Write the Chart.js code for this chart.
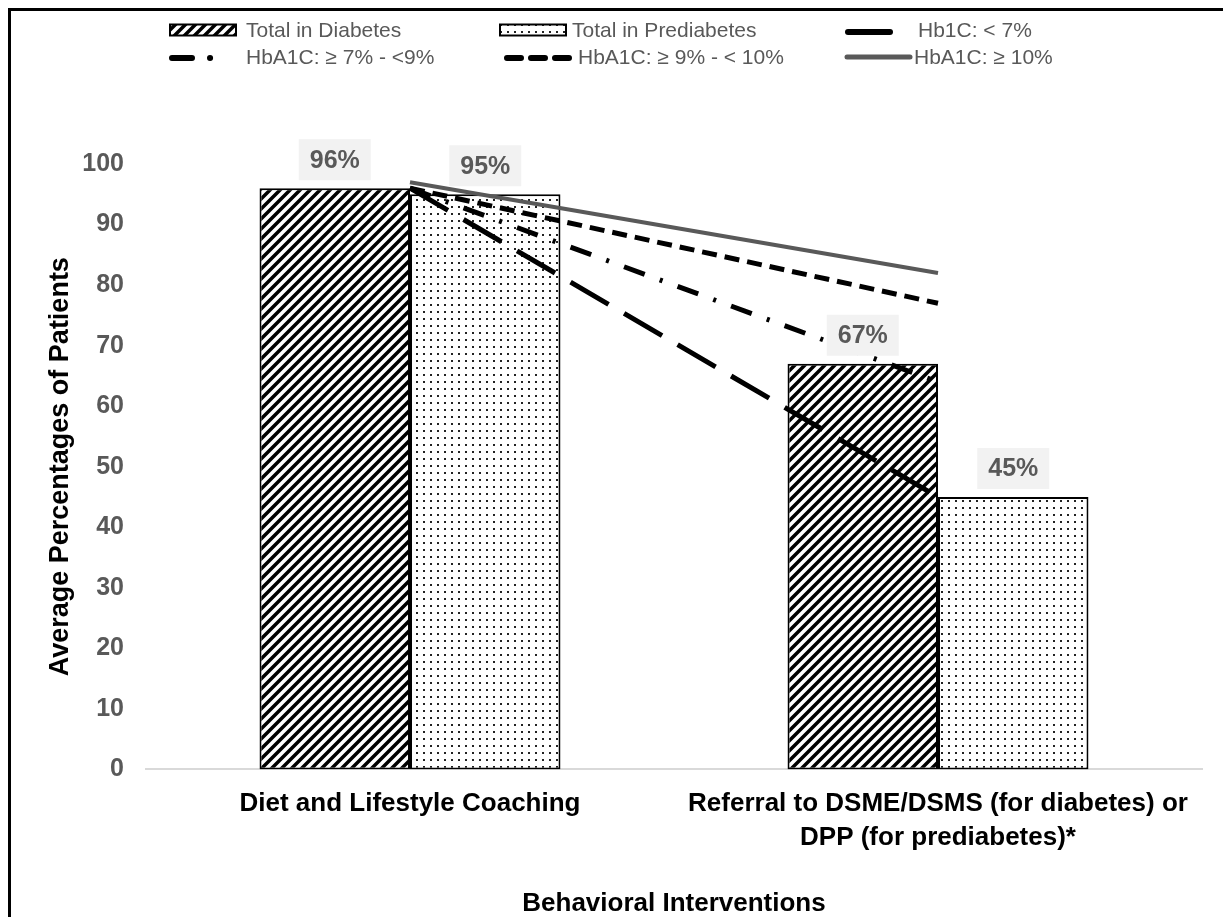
<!DOCTYPE html>
<html>
<head>
<meta charset="utf-8">
<script src="https://cdn.jsdelivr.net/npm/chart.js@4.4.1/dist/chart.umd.min.js"></script>
<style>
  html, body { margin: 0; padding: 0; background: #fff; overflow: hidden; }
  #wrap { position: relative; width: 1223px; height: 917px; }
  #frame { position: absolute; left: 8px; top: 8px; width: 1300px; height: 1000px;
           border-left: 3px solid #000; border-top: 3px solid #000; pointer-events: none; }
</style>
</head>
<body>
<div id="wrap">
  <canvas id="chart"></canvas>
  <div id="frame"></div>
</div>
<script>
// categories and values
const categories = [
  ["Diet and Lifestyle Coaching"],
  ["Referral to DSME/DSMS (for diabetes) or", "DPP (for prediabetes)*"]
];
const totalDiabetes = [96, 67];
const totalPrediabetes = [95, 45];
const hbBelow7 = [96, 45];
const hb7to9 = [96, 64];
const hb9to10 = [96, 77];
const hbAbove10 = [97, 82];
const yMin = 0, yMax = 100, yStep = 10;

const FONT = '"Liberation Sans", Arial, Helvetica, sans-serif';

// fill patterns for the bars
function hatchPattern() {
  const c = document.createElement("canvas");
  c.width = 10; c.height = 10;
  const x = c.getContext("2d");
  x.fillStyle = "#fff"; x.fillRect(0, 0, 10, 10);
  x.strokeStyle = "#000"; x.lineWidth = 3.5;
  x.beginPath();
  x.moveTo(-5, 5); x.lineTo(5, -5);
  x.moveTo(0, 10); x.lineTo(10, 0);
  x.moveTo(5, 15); x.lineTo(15, 5);
  x.stroke();
  return x.createPattern(c, "repeat");
}
function dotPattern() {
  const c = document.createElement("canvas");
  c.width = 7; c.height = 7;
  const x = c.getContext("2d");
  x.fillStyle = "#fff"; x.fillRect(0, 0, 7, 7);
  x.fillStyle = "#222"; x.fillRect(3, 3, 2, 2);
  return x.createPattern(c, "repeat");
}
const hatch = hatchPattern();
const dots = dotPattern();

// percentage boxes above the bars
const barLabels = {
  id: "barLabels",
  afterDatasetsDraw(chart) {
    const ctx = chart.ctx;
    ctx.save();
    ctx.font = "bold 25px " + FONT;
    ctx.textAlign = "center";
    ctx.textBaseline = "middle";
    chart.data.datasets.forEach((ds, i) => {
      if (ds.type !== "bar") return;
      chart.getDatasetMeta(i).data.forEach((bar, j) => {
        const w = 72, h = 41;
        const top = bar.y - 8 - h;
        ctx.fillStyle = "#f2f2f2";
        ctx.fillRect(bar.x - w / 2, top, w, h);
        ctx.fillStyle = "#595959";
        ctx.fillText(ds.data[j] + "%", bar.x, top + h / 2 + 1);
      });
    });
    ctx.restore();
  }
};

// legend drawn by hand to copy the two-row layout
const customLegend = {
  id: "customLegend",
  afterDraw(chart) {
    const ctx = chart.ctx;
    const ds = chart.data.datasets;
    ctx.save();
    ctx.font = "21px " + FONT;
    ctx.textBaseline = "middle";
    ctx.textAlign = "left";

    const box = (x, y, fill) => {
      ctx.fillStyle = fill;
      ctx.fillRect(x, y - 5.5, 66, 11);
      ctx.strokeStyle = "#000"; ctx.lineWidth = 2;
      ctx.strokeRect(x, y - 5.5, 66, 11);
    };
    const seg = (x1, x2, y, d) => {
      ctx.strokeStyle = d.borderColor;
      ctx.lineWidth = d.borderWidth + 1;
      ctx.lineCap = "round";
      ctx.setLineDash(d.legendDash || []);
      ctx.beginPath(); ctx.moveTo(x1, y); ctx.lineTo(x2, y); ctx.stroke();
      ctx.setLineDash([]);
    };
    const text = (t, x, y) => { ctx.fillStyle = "#595959"; ctx.fillText(t, x, y); };

    box(170, 30, hatch); text(ds[0].label, 246, 31);
    box(500, 30, dots); text(ds[1].label, 572, 31);
    seg(848, 890, 32, ds[2]); text(ds[2].label, 918, 31);
    seg(172, 212, 58, ds[3]); text(ds[3].label, 246, 58);
    seg(507, 570, 58, ds[4]); text(ds[4].label, 578, 58);
    seg(847, 910, 57, ds[5]); text(ds[5].label, 914, 58);
    ctx.restore();
  }
};

new Chart(document.getElementById("chart"), {
  data: {
    labels: categories,
    datasets: [
      { type: "bar", label: "Total in Diabetes", data: totalDiabetes, backgroundColor: hatch,
        borderColor: "#000", borderWidth: 2, borderSkipped: false, order: 1,
        categoryPercentage: 0.57, barPercentage: 1 },
      { type: "bar", label: "Total in Prediabetes", data: totalPrediabetes, backgroundColor: dots,
        borderColor: "#000", borderWidth: 2, borderSkipped: false, order: 1,
        categoryPercentage: 0.57, barPercentage: 1 },
      { type: "line", label: "Hb1C: < 7%", data: hbBelow7, borderColor: "#000", borderWidth: 5,
        borderDash: [44, 18], legendDash: [], pointRadius: 0, order: 0 },
      { type: "line", label: "HbA1C: \u2265 7% - <9%", data: hb7to9, borderColor: "#000", borderWidth: 5,
        borderDash: [22, 16, 3, 16], legendDash: [20, 18, 0.1, 20], pointRadius: 0, order: 0 },
      { type: "line", label: "HbA1C: \u2265 9% - < 10%", data: hb9to10, borderColor: "#000", borderWidth: 5,
        borderDash: [15, 8], legendDash: [14, 10], pointRadius: 0, order: 0 },
      { type: "line", label: "HbA1C: \u2265 10%", data: hbAbove10, borderColor: "#595959", borderWidth: 4,
        pointRadius: 0, order: 0 }
    ]
  },
  options: {
    responsive: true,
    maintainAspectRatio: false,
    animation: false,
    layout: { padding: { left: 44, right: 21, top: 164, bottom: 0 } },
    plugins: {
      legend: { display: false },
      tooltip: { enabled: false }
    },
    scales: {
      x: {
        grid: { display: false },
        border: { display: true, color: "#d9d9d9", width: 2 },
        ticks: { color: "#000", padding: 10, maxRotation: 0,
                 font: { family: FONT, size: 26, weight: "bold", lineHeight: 1.3 } },
        title: { display: true, text: "Behavioral Interventions", color: "#000",
                 padding: { top: 26, bottom: 0 },
                 font: { family: FONT, size: 26, weight: "bold", lineHeight: 1.0 } }
      },
      y: {
        min: yMin, max: yMax,
        afterFit(scale) { scale.width = 102; },
        grid: { display: false },
        border: { display: false },
        ticks: { stepSize: yStep, color: "#595959", padding: 14,
                 font: { family: FONT, size: 25, weight: "bold" } },
        title: { display: true, text: "Average Percentages of Patients", color: "#000",
                 padding: { top: 0, bottom: 0 },
                 font: { family: FONT, size: 27, weight: "bold", lineHeight: 1.2 } }
      }
    }
  },
  plugins: [barLabels, customLegend]
});
</script>
</body>
</html>
